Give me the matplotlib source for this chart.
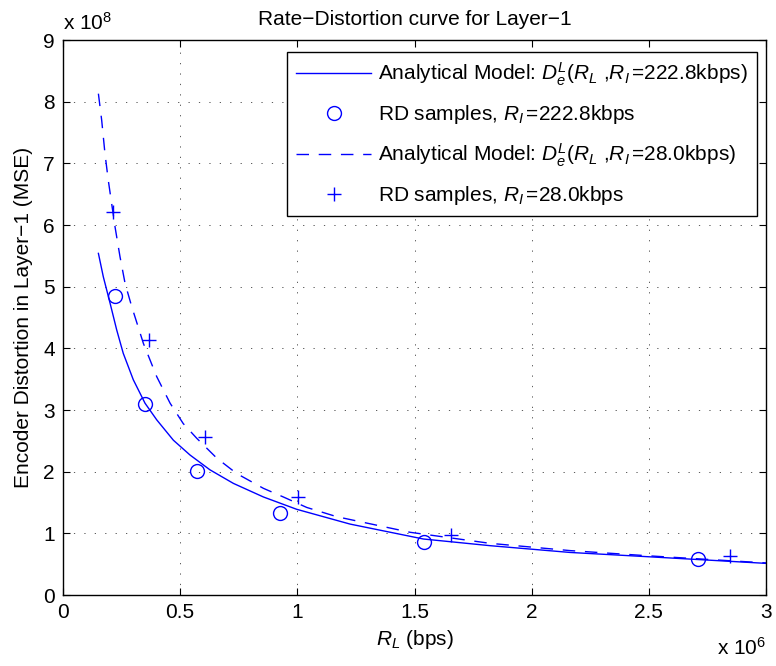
import numpy as np
import matplotlib
matplotlib.use("Agg")
import matplotlib.pyplot as plt
from matplotlib.ticker import FuncFormatter, MultipleLocator

plt.rcParams['font.family'] = ['Liberation Sans', 'DejaVu Sans']
plt.rcParams['mathtext.fontset'] = 'custom'
plt.rcParams['mathtext.rm'] = 'Liberation Sans'
plt.rcParams['mathtext.it'] = 'Liberation Sans:italic'
plt.rcParams['mathtext.bf'] = 'Liberation Sans:bold'
plt.rcParams['font.size'] = 15

# rate in units of 1e6 bps, distortion in units of 1e8
model_hi_x = [0.151, 0.172, 0.201, 0.229, 0.257, 0.300, 0.350, 0.400, 0.471, 0.542, 0.627, 0.727,
              0.855, 0.997, 1.225, 1.538, 1.822, 2.164, 2.5, 3.0]
model_hi_y = [5.54, 5.16, 4.73, 4.30, 3.92, 3.49, 3.11, 2.84, 2.51, 2.27, 2.03, 1.81,
              1.59, 1.39, 1.15, 0.908, 0.80, 0.69, 0.62, 0.513]

model_lo_x = [0.151, 0.165, 0.179, 0.193, 0.222, 0.243, 0.265, 0.293, 0.343, 0.400, 0.457, 0.513,
              0.571, 0.656, 0.741, 0.855, 0.940, 1.04, 1.168, 1.481, 1.822, 2.164, 2.5, 3.0]
model_lo_y = [8.13, 7.70, 7.16, 6.73, 5.97, 5.49, 5.05, 4.68, 4.08, 3.54, 3.11, 2.78,
              2.54, 2.22, 1.97, 1.73, 1.59, 1.42, 1.27, 1.017, 0.838, 0.72, 0.635, 0.52]

samp_hi_x = [0.222, 0.35, 0.57, 0.925, 1.542, 2.71]
samp_hi_y = [4.85, 3.09, 2.01, 1.33, 0.864, 0.583]

samp_lo_x = [0.215, 0.368, 0.605, 1.004, 1.655, 2.844]
samp_lo_y = [6.21, 4.14, 2.56, 1.585, 0.97, 0.632]

blue = '#0000ff'

fig = plt.figure(figsize=(7.76, 6.66), dpi=100)
ax = fig.add_axes([0.0812, 0.1066, 0.906, 0.8333])

ax.plot(model_hi_x, model_hi_y, '-', color=blue, lw=1.0,
        label=r'Analytical Model: $D^L_e$($R_L$ ,$R_I\,$=222.8kbps$)$')
ax.plot(samp_hi_x, samp_hi_y, 'o', color=blue, mfc='none', ms=10, mew=1.0,
        label=r'RD samples, $R_I\,$=222.8kbps')
ax.plot(model_lo_x, model_lo_y, '--', color=blue, lw=1.0, dashes=(9, 7),
        label=r'Analytical Model: $D^L_e$($R_L$ ,$R_I\,$=28.0kbps)')
ax.plot(samp_lo_x, samp_lo_y, '+', color=blue, ms=10, mew=1.0,
        label=r'RD samples, $R_I\,$=28.0kbps')

ax.set_xlim(0, 3)
ax.set_ylim(0, 9)
ax.xaxis.set_major_locator(MultipleLocator(0.5))
ax.yaxis.set_major_locator(MultipleLocator(1))
fmt = FuncFormatter(lambda v, p: '%g' % v)
ax.xaxis.set_major_formatter(fmt)
ax.yaxis.set_major_formatter(fmt)
ax.tick_params(direction='in', length=5, width=0.8, top=True, right=True, labelsize=15, pad=6)
for s in ax.spines.values():
    s.set_linewidth(1.0)

ax.grid(True, color='0.25', lw=0.6, linestyle=(0, (1.5, 11)))
ax.set_axisbelow(True)

ax.set_title('Rate\u2212Distortion curve for Layer\u22121', fontsize=15, pad=11)
ax.set_xlabel(r'$R_L$ (bps)', fontsize=15, labelpad=4)
ax.set_ylabel('Encoder Distortion in Layer\u22121 (MSE)', fontsize=15, labelpad=7)

ax.text(0, 1.012, r'x 10$^8$', transform=ax.transAxes, ha='left', va='bottom', fontsize=15)
ax.text(1, -0.076, r'x 10$^6$', transform=ax.transAxes, ha='right', va='top', fontsize=15)

leg = ax.legend(loc='upper right', bbox_to_anchor=(0.9868, 0.979), borderaxespad=0,
                fancybox=False, framealpha=1, edgecolor='k', handlelength=3.6,
                handletextpad=0.3, labelspacing=0.72, borderpad=0.45, fontsize=15)
leg.get_frame().set_linewidth(1.0)

fig.savefig('out.png', dpi=100)
